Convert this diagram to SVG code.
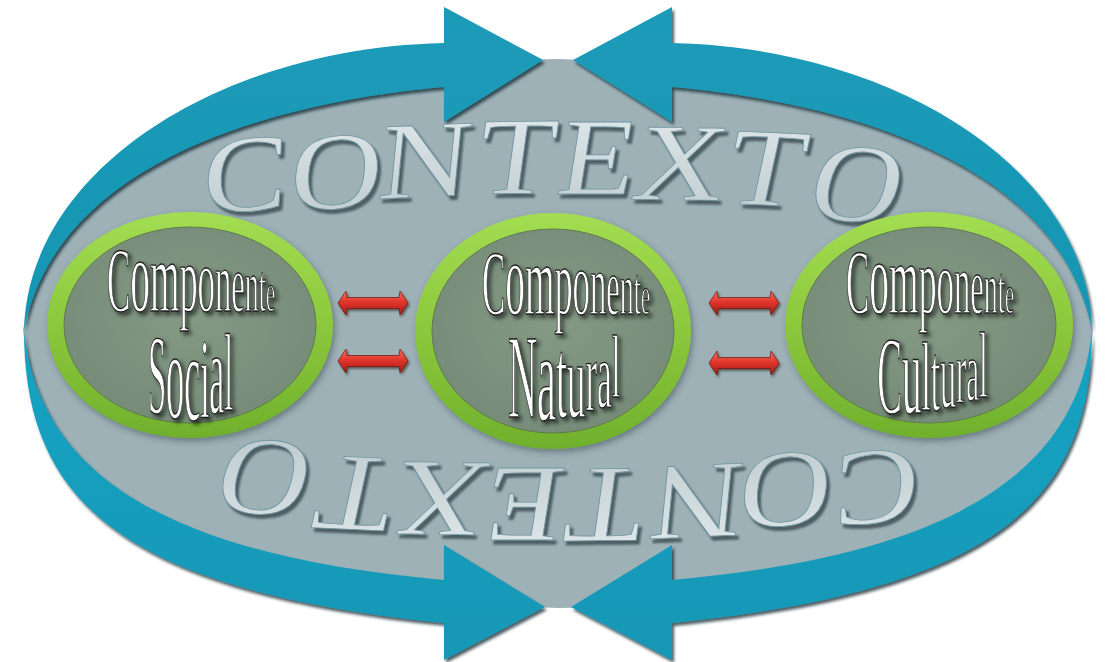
<svg xmlns="http://www.w3.org/2000/svg" width="1106" height="662" viewBox="0 0 1106 662">
<defs>
<style>
.serif{font-family:"Liberation Serif","Times New Roman",serif}
.word{fill:#ffffff;stroke:#1e1e1e;stroke-width:1.3;vector-effect:non-scaling-stroke}
.ctx{font-family:"Liberation Serif","Times New Roman",serif;font-size:110px;fill:url(#ctxGrad);stroke:#6f97a2;stroke-width:0.8}
.bandT{fill:url(#blueTop)}
.bandB{fill:url(#blueBot)}
.ring{fill:url(#ringGrad)}
.inner{fill:url(#innerGrad);stroke:#5e7a50;stroke-width:1}
.redArrow{fill:url(#redGrad);stroke:#6a1510;stroke-width:0.7}
</style>
<linearGradient id="blueTop" x1="0" y1="0" x2="0" y2="1">
<stop offset="0" stop-color="#1b9bb8"/><stop offset="1" stop-color="#1796b2"/>
</linearGradient>
<linearGradient id="blueBot" x1="0" y1="0" x2="0" y2="1">
<stop offset="0" stop-color="#15a3c3"/><stop offset="1" stop-color="#1897b5"/>
</linearGradient>
<linearGradient id="ringGrad" x1="0" y1="0" x2="0" y2="1">
<stop offset="0" stop-color="#a3dd52"/><stop offset="0.5" stop-color="#8cc83c"/><stop offset="1" stop-color="#70b02c"/>
</linearGradient>
<radialGradient id="innerGrad" cx="0.5" cy="0.45" r="0.6">
<stop offset="0" stop-color="#849a84"/><stop offset="1" stop-color="#758b78"/>
</radialGradient>
<linearGradient id="ctxGrad" x1="0" y1="0" x2="0" y2="1">
<stop offset="0" stop-color="#e3eaec"/><stop offset="1" stop-color="#b8c6ca"/>
</linearGradient>
<linearGradient id="redGrad" x1="0" y1="0" x2="0" y2="1">
<stop offset="0" stop-color="#f47767"/><stop offset="0.45" stop-color="#e2352b"/><stop offset="1" stop-color="#a31c16"/>
</linearGradient>
<filter id="bandShadow" x="-5%" y="-5%" width="112%" height="115%">
<feDropShadow dx="2" dy="3" stdDeviation="1.5" flood-color="#0b2a33" flood-opacity="0.75"/>
</filter>
<filter id="wordShadow" x="-20%" y="-20%" width="150%" height="150%">
<feDropShadow dx="3" dy="3" stdDeviation="2" flood-color="#000" flood-opacity="0.65"/>
</filter>
<filter id="ctxShadow" x="-5%" y="-20%" width="115%" height="150%">
<feDropShadow dx="3" dy="4" stdDeviation="1" flood-color="#3f4f54" flood-opacity="0.85"/>
</filter>
<filter id="ringShadow" x="-10%" y="-10%" width="125%" height="130%">
<feDropShadow dx="2" dy="3" stdDeviation="3" flood-color="#2d3f44" flood-opacity="0.5"/>
</filter>
<filter id="redShadow" x="-10%" y="-30%" width="130%" height="170%">
<feDropShadow dx="1.5" dy="2" stdDeviation="1" flood-color="#2a1a18" flood-opacity="0.6"/>
</filter>
<path id="dblArrow" d="M -35 0 L -27 -12 L -26 -5.5 L 26 -5.5 L 27 -12 L 35 0 L 27 12 L 26 5.5 L -26 5.5 L -27 12 Z"/>
<text id="comp" class="serif word" transform="scale(0.379 1)" text-anchor="middle"><tspan font-size="92">C</tspan><tspan font-size="104">o</tspan><tspan font-size="100">m</tspan><tspan font-size="96">p</tspan><tspan font-size="92">o</tspan><tspan font-size="86">n</tspan><tspan font-size="80">e</tspan><tspan font-size="74">n</tspan><tspan font-size="68">t</tspan><tspan font-size="54">e</tspan></text>
<g id="ctxG" transform="skewX(-9) scale(1.15 1)">
<text class="ctx" text-anchor="middle" x="241 319 394 472 542 614 688 768" y="214 211 199 194 194 199 203 217" rotate="-5 -4 -3 -1 0 1 3 5">CONTEXTO</text>
</g>
</defs>

<rect width="1106" height="662" fill="#ffffff"/>

<g id="background">
<path d="M 24 330 C 60 150, 300 100, 444 87 Q 558 33 672 87 C 816 100, 1056 150, 1092 330 C 1076 500, 896 560, 672 580 Q 558 634 444 580 C 220 560, 40 500, 24 330 Z" fill="#9db1b7" stroke="#9db1b7" stroke-width="2"/>
</g>

<g id="cycle" filter="url(#bandShadow)">
<path class="bandT" d="M 24 330 C 28 170, 220 48, 444 43 L 444 7 L 543 60 L 444 122 L 444 87 C 300 100, 60 150, 24 330 Z"/>
<path class="bandT" d="M 1092 330 C 1088 170, 896 48, 672 43 L 672 7 L 573 60 L 672 122 L 672 87 C 816 100, 1056 150, 1092 330 Z"/>
<path class="bandB" d="M 24 330 C 24 500, 120 590, 444 623 L 444 660 L 545 607 L 444 545 L 444 580 C 220 560, 40 500, 24 330 Z"/>
<path class="bandB" d="M 1092 330 C 1092 500, 996 590, 672 623 L 672 660 L 571 607 L 672 545 L 672 580 C 896 560, 1076 500, 1092 330 Z"/>
</g>

<g id="contexto">
<g filter="url(#ctxShadow)"><use href="#ctxG"/></g>
<g filter="url(#ctxShadow)"><use href="#ctxG" transform="rotate(180 561 331)"/></g>
</g>

<g id="node-social">
<ellipse class="ring" cx="190" cy="325" rx="143" ry="113" filter="url(#ringShadow)"/>
<ellipse class="inner" cx="190" cy="325" rx="126" ry="98"/>
<g filter="url(#wordShadow)">
<use href="#comp" transform="translate(191 311)"/>
<text class="serif word" transform="translate(190.5 413) scale(0.289 1)" text-anchor="middle"><tspan font-size="113">S</tspan><tspan font-size="126" dy="5">o</tspan><tspan font-size="124" dy="2">c</tspan><tspan font-size="114" dy="-2">i</tspan><tspan font-size="116" dy="-5">a</tspan><tspan font-size="110" dy="-3">l</tspan></text>
</g>
</g>

<g id="node-natural">
<ellipse class="ring" cx="553" cy="331" rx="138" ry="118" filter="url(#ringShadow)"/>
<ellipse class="inner" cx="553" cy="331" rx="121" ry="102"/>
<g filter="url(#wordShadow)">
<use href="#comp" transform="translate(566 314)"/>
<text class="serif word" transform="translate(564 417) scale(0.342 1)" text-anchor="middle"><tspan font-size="118">N</tspan><tspan font-size="124" dy="3">a</tspan><tspan font-size="115" dy="-3">t</tspan><tspan font-size="109">u</tspan><tspan font-size="102" dy="-7">r</tspan><tspan font-size="96" dy="-3">a</tspan><tspan font-size="88" dy="-10">l</tspan></text>
</g>
</g>

<g id="node-cultural">
<ellipse class="ring" cx="929" cy="325" rx="144" ry="113" filter="url(#ringShadow)"/>
<ellipse class="inner" cx="929" cy="325" rx="127" ry="98"/>
<g filter="url(#wordShadow)">
<use href="#comp" transform="translate(930 313)"/>
<text class="serif word" transform="translate(932.5 413) scale(0.337 1)" text-anchor="middle"><tspan font-size="110">C</tspan><tspan font-size="116">u</tspan><tspan font-size="98" dy="-3">l</tspan><tspan font-size="98">t</tspan><tspan font-size="95" dy="-3">u</tspan><tspan font-size="92" dy="-4">r</tspan><tspan font-size="85" dy="-3">a</tspan><tspan font-size="94" dy="-3">l</tspan></text>
</g>
</g>

<g id="connectors" filter="url(#redShadow)">
<use href="#dblArrow" class="redArrow" transform="translate(373 303)"/>
<use href="#dblArrow" class="redArrow" transform="translate(373 361)"/>
<use href="#dblArrow" class="redArrow" transform="translate(744 303)"/>
<use href="#dblArrow" class="redArrow" transform="translate(744 363)"/>
</g>
</svg>
